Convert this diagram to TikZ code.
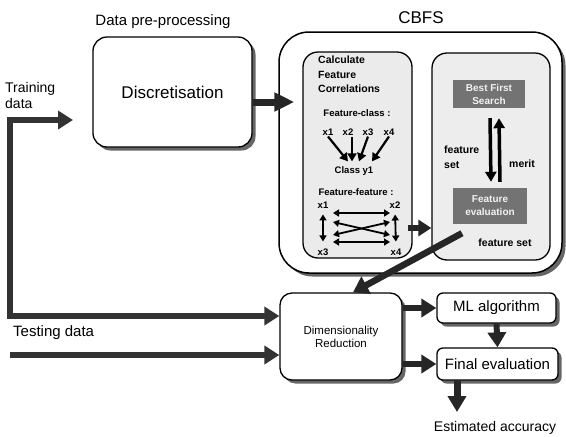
\documentclass[tikz,border=0pt]{standalone}
\usepackage{fontspec}
\setmainfont{Liberation Sans}
\usetikzlibrary{arrows.meta,shadows,calc}
\newcommand\fzBig{\fontsize{17}{20}\selectfont}
\newcommand\fzMed{\fontsize{15}{17}\selectfont}
\newcommand\fzTr{\fontsize{14}{16}\selectfont}
\newcommand\fzDim{\fontsize{11.5}{13}\selectfont}
\newcommand\fzIn{\bfseries\fontsize{10.5}{14.5}\selectfont}
\newcommand\fzSm{\bfseries\fontsize{9.5}{11}\selectfont}
\newcommand\fzGr{\bfseries\fontsize{10}{13}\selectfont}
\begin{document}
\begin{tikzpicture}[x=1pt,y=-1pt,
  box/.style={draw=black, line width=1.3pt, fill=white, inner sep=0pt},
  shad/.style={drop shadow={shadow xshift=3.5pt, shadow yshift=-3.5pt, fill=black!60, opacity=1}},
  fat/.style={line width=6pt, black!85, -{Triangle[length=15pt,width=18pt]}},
  fatB/.style={line width=6pt, black!80, {Triangle[length=15pt,width=18pt]}-{Triangle[length=15pt,width=18pt]}},
  sm/.style={line width=2.2pt, -{Triangle[length=8pt,width=9pt]}},
  smd/.style={line width=1.8pt, {Triangle[length=6pt,width=7pt]}-{Triangle[length=6pt,width=7pt]}},
  lbl/.style={inner sep=1pt, font=\fzSm},
  gbox/.style={fill=black!55, text=black!5, inner sep=0pt, font=\fzGr, align=center}]
\useasboundingbox (0,0) rectangle (566,437);

% titles
\node[font=\fzMed] (tpre) at (163,22) {Data pre-processing};
\node[font=\fzBig] (tcbfs) at (421,18) {CBFS};
\node[font=\fzTr, align=left, anchor=west, inner sep=0pt] (ttrain) at (5,95) {Training\\data};
\node[font=\fzMed, anchor=west, inner sep=0pt] (ttest) at (13,333) {Testing data};
\node[font=\fzTr] (testacc) at (495,428) {Estimated accuracy};

% boxes
\node[box, shad, rounded corners=14pt, minimum width=159pt, minimum height=110pt, font=\fzBig] (disc) at (172.5,92) {Discretisation};
\node[box, line width=1.5pt, shad, rounded corners=30pt, minimum width=283pt, minimum height=241pt] (cbfs) at (420.5,152.5) {};
\node[box, fill=black!8, rounded corners=15pt, minimum width=109pt, minimum height=206pt] (corr) at (357.5,155) {};
\node[box, fill=black!7, rounded corners=15pt, minimum width=118pt, minimum height=207pt] (srch) at (491,156.5) {};
\node[gbox, minimum width=72pt, minimum height=28pt] (bfs) at (489,94) {Best First\\Search};
\node[gbox, minimum width=74pt, minimum height=36pt] (fe) at (490,206) {Feature\\evaluation};
\node[box, shad, rounded corners=12pt, minimum width=122pt, minimum height=87pt, font=\fzDim, align=center] (dim) at (341,336.5) {Dimensionality\\Reduction};
\node[box, shad, rounded corners=6pt, minimum width=119pt, minimum height=30pt, font=\fzMed] (ml) at (496.5,308) {ML algorithm};
\node[box, shad, rounded corners=6pt, minimum width=121pt, minimum height=32pt, font=\fzMed] (fin) at (497.5,364) {Final evaluation};

% left inner box content
\node[font=\fzIn, align=left, anchor=north west, inner sep=0pt] (calc) at (318,56) {Calculate\\Feature\\Correlations};
\node[lbl] (fc) at (357,113) {Feature-class :};
\node[lbl] (x1c) at (328,132) {x1};
\node[lbl] (x2c) at (348,132) {x2};
\node[lbl] (x3c) at (368,132) {x3};
\node[lbl] (x4c) at (389,132) {x4};
\node[lbl] (cy) at (354,171) {Class y1};
\draw[sm] (x1c.south) -- ($(cy.north)+(-6,-4)$);
\draw[sm] ($(x2c.south)+(4,0)$) -- ($(cy.north)+(-2,-4)$);
\draw[sm] (x3c.south) -- ($(cy.north)+(5,-4)$);
\draw[sm] (x4c.south) -- ($(cy.north)+(18,-4)$);

\node[lbl] (ff) at (356,192) {Feature-feature :};
\node[lbl] (x1f) at (323,205) {x1};
\node[lbl] (x2f) at (395,205) {x2};
\node[lbl] (x3f) at (323,252) {x3};
\node[lbl] (x4f) at (396,252) {x4};
\coordinate (q1) at (333,213);
\coordinate (q2) at (390,213);
\coordinate (q3) at (333,242);
\coordinate (q4) at (390,242);
\coordinate (r1) at (333,222);
\coordinate (r2) at (390,222);
\coordinate (r3) at (333,235);
\coordinate (r4) at (390,235);
\draw[smd] (q1) -- (q2);
\draw[smd] (q3) -- (q4);
\draw[smd] (r1) -- (r4);
\draw[smd] (r3) -- (r2);
\draw[smd, shorten <=5pt, shorten >=6pt] (x1f.south) -- (x3f.north);
\draw[smd, shorten <=5pt, shorten >=6pt] (x2f.south) -- (x4f.north);

% right inner box content
\draw[line width=3.5pt, -{Triangle[length=10pt,width=11pt]}] ($(bfs.south)+(1,10)$) -- ($(fe.north)+(1,-6)$);
\draw[line width=3.5pt, -{Triangle[length=10pt,width=11pt]}] ($(fe.north)+(10,-6)$) -- ($(bfs.south)+(10,10)$);
\node[font=\fzIn, align=left, anchor=west, inner sep=0pt, text depth=0pt] (lfs) at (444,157) {feature\\set};
\node[font=\fzIn, anchor=west, inner sep=0pt] (lmerit) at (509,164) {merit};
\node[font=\fzIn, inner sep=0pt] (lfs2) at (505,243) {feature set};

% connectors
\coordinate (dy) at (0,102);
\draw[fat, line width=7pt, -{Triangle[length=20pt,width=18pt]}, shorten >=-16pt] (disc.east |- dy) -- (cbfs.west |- dy);
\coordinate (ffy) at (0,228);
\draw[fat, line width=5.5pt, shorten <=-5pt, -{Triangle[length=13pt,width=16pt]}] (corr.east |- ffy) -- (srch.west |- ffy);
\draw[line width=6.5pt, black!85, -{Triangle[length=15pt,width=19pt]}] ($(fe.south)+(-28,9)$) -- ($(dim.north)+(12,0)$);

\coordinate (ttip) at (73,120);
\coordinate (ttop) at (10,120);
\coordinate (tcorner) at (10,316);
\draw[fatB, line join=miter] (ttip) -- (ttop) -- (tcorner) -- (dim.west |- tcorner);
\coordinate (tst) at (10,355);
\draw[fat, black!80] (tst) -- (dim.west |- tst);

\draw[fat] (dim.east |- ml.west) -- (ml.west);
\draw[fat] (dim.east |- fin.west) -- (fin.west);
\draw[fat] (ml.south) -- (fin.north);
\coordinate (est) at (457,412);
\draw[fat, line width=7pt, -{Triangle[length=16pt,width=18pt]}] (fin.south -| est) -- (est);
\end{tikzpicture}
\end{document}
